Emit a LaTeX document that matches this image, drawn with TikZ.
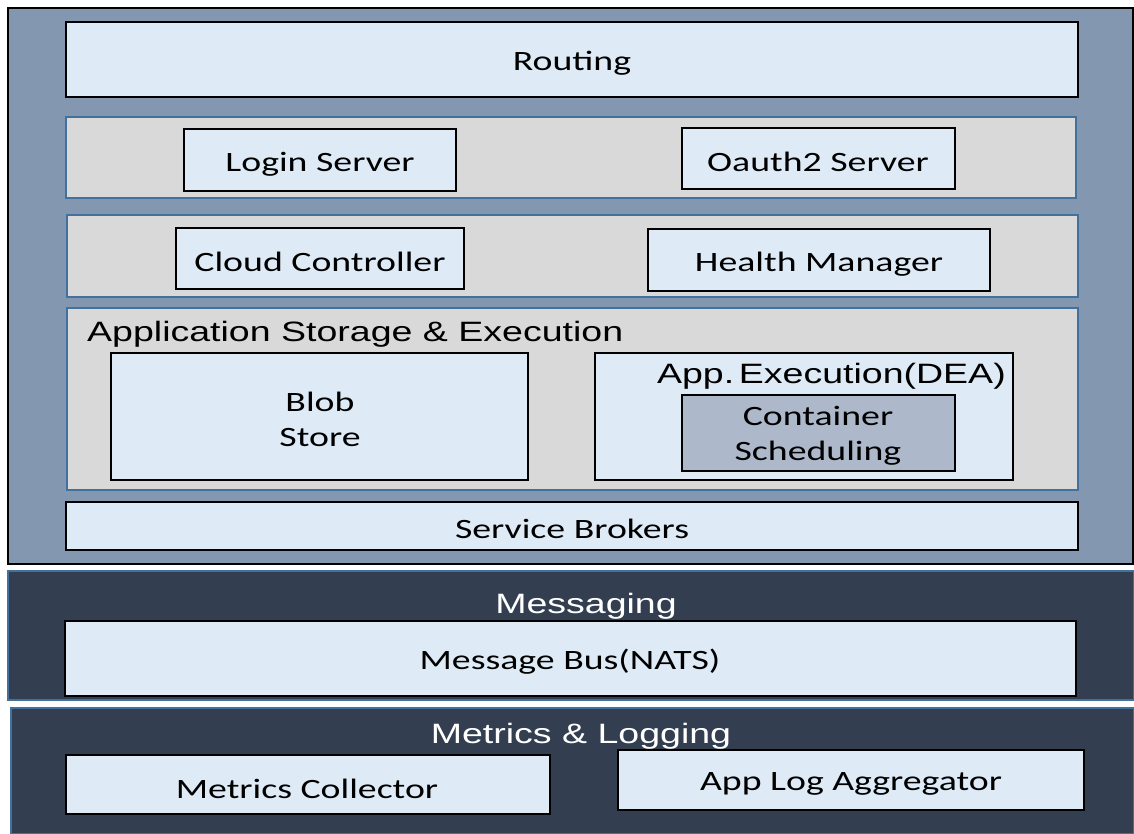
\documentclass[tikz,border=0pt]{standalone}
\usepackage{fontspec}
\setmainfont{Carlito}[FakeStretch=1.35]
\newfontfamily\arialf{Liberation Sans}[FakeStretch=1.34]
\definecolor{panelA}{HTML}{8497B0}
\definecolor{panelB}{HTML}{333F50}
\definecolor{lightb}{HTML}{DEEBF7}
\definecolor{grayp}{HTML}{D9D9D9}
\definecolor{contf}{HTML}{ADB9CA}
\definecolor{bluebd}{HTML}{41719C}
\tikzset{
  boxx/.style={draw=black, fill=lightb, line width=1.6pt},
  grp/.style={draw=bluebd, fill=grayp, line width=1.2pt},
  lbl/.style={font=\fontsize{28}{35}\selectfont, text=black, yshift=-3pt},
  ttl/.style={font=\arialf\fontsize{28}{32}\selectfont, yshift=-3pt},
}
\begin{document}
\begin{tikzpicture}[x=1pt,y=-1pt]
\useasboundingbox (0,0) rectangle (1134,834);
% top panel
\draw[fill=panelA, draw=black, line width=2pt] (8,8) rectangle (1133,564);
\draw[boxx] (66,22) rectangle (1078,97);
\node[lbl] (routing) at (572,60) {Routing};
\draw[grp] (66,117) rectangle (1076,198);
\draw[boxx] (184,129) rectangle (456,191);
\node[lbl] (login) at (320,161) {Login Server};
\draw[boxx] (682,128) rectangle (955,189);
\node[lbl] (oauth) at (818,159) {Oauth2 Server};
\draw[grp] (67,215) rectangle (1078,297);
\draw[boxx] (176,228) rectangle (464,289);
\node[lbl] (cc) at (320,259) {Cloud Controller};
\draw[boxx] (648,229) rectangle (990,291);
\node[lbl] (hm) at (819,261) {Health Manager};
\draw[grp] (67,308) rectangle (1078,490);
\node[ttl, anchor=west, inner sep=0pt] (ase) at (87,331) {Application Storage \& Execution};
\draw[boxx] (111,353) rectangle (528,480);
\node[lbl, align=center, yshift=1pt] (blob) at (320,417) {Blob\\Store};
\draw[boxx] (595,353) rectangle (1013,480);
\node[ttl, anchor=east, inner sep=0pt] (dea) at (1006,373) {App.\,Execution(DEA)};
\draw[draw=black, fill=contf, line width=1.6pt] (682,395) rectangle (955,471);
\node[lbl, align=center] (cs) at (818,433) {Container\\Scheduling};
\draw[boxx] (66,502) rectangle (1078,550);
\node[lbl] (sb) at (572,526) {Service Brokers};
% messaging
\draw[fill=panelB, draw=bluebd, line width=1.2pt] (8,571) rectangle (1134,700);
\node[ttl, text=white] (msg) at (586,603) {Messaging};
\draw[boxx] (65,621) rectangle (1076,696);
\node[lbl] (bus) at (570,659) {Message Bus(NATS)};
% metrics
\draw[fill=panelB, draw=bluebd, line width=1.2pt] (11,708) rectangle (1134,834);
\node[ttl, text=white] (ml) at (581,733) {Metrics \& Logging};
\draw[boxx] (66,755) rectangle (550,814);
\node[lbl] (mc) at (307,786) {Metrics Collector};
\draw[boxx] (618,750) rectangle (1084,810);
\node[lbl] (ala) at (851,781) {App Log Aggregator};
\end{tikzpicture}
\end{document}
